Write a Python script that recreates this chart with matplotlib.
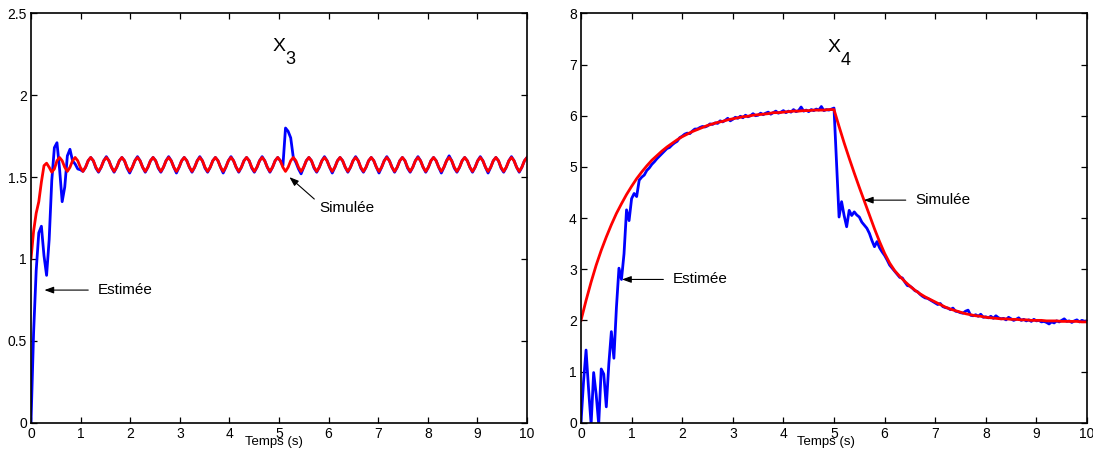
import numpy as np
import matplotlib
matplotlib.use("Agg")
import matplotlib.pyplot as plt
from matplotlib.ticker import FormatStrFormatter

plt.rcParams['font.family'] = ['Liberation Sans', 'DejaVu Sans']
plt.rcParams['font.size'] = 10

# ---- data : X3 (sampled every dt3 seconds) ----
dt3 = 0.05236
x3_sim = [
    1.00, 1.17, 1.28, 1.35, 1.47, 1.57,
    1.585, 1.56, 1.53, 1.55, 1.60, 1.62,
    1.60, 1.56, 1.535, 1.56, 1.60, 1.62,
    1.60, 1.56, 1.535, 1.56, 1.60, 1.62,
    1.60, 1.56, 1.535, 1.56, 1.60, 1.62,
    1.60, 1.56, 1.535, 1.56, 1.60, 1.62,
    1.60, 1.56, 1.535, 1.56, 1.60, 1.62,
    1.60, 1.56, 1.535, 1.56, 1.60, 1.62,
    1.60, 1.56, 1.535, 1.56, 1.60, 1.62,
    1.60, 1.56, 1.535, 1.56, 1.60, 1.62,
    1.60, 1.56, 1.535, 1.56, 1.60, 1.62,
    1.60, 1.56, 1.535, 1.56, 1.60, 1.62,
    1.60, 1.56, 1.535, 1.56, 1.60, 1.62,
    1.60, 1.56, 1.535, 1.56, 1.60, 1.62,
    1.60, 1.56, 1.535, 1.56, 1.60, 1.62,
    1.60, 1.56, 1.535, 1.56, 1.60, 1.62,
    1.60, 1.56, 1.535, 1.56, 1.60, 1.62,
    1.60, 1.56, 1.535, 1.56, 1.60, 1.62,
    1.60, 1.56, 1.535, 1.56, 1.60, 1.62,
    1.60, 1.56, 1.535, 1.56, 1.60, 1.62,
    1.60, 1.56, 1.535, 1.56, 1.60, 1.62,
    1.60, 1.56, 1.535, 1.56, 1.60, 1.62,
    1.60, 1.56, 1.535, 1.56, 1.60, 1.62,
    1.60, 1.56, 1.535, 1.56, 1.60, 1.62,
    1.60, 1.56, 1.535, 1.56, 1.60, 1.62,
    1.60, 1.56, 1.535, 1.56, 1.60, 1.62,
    1.60, 1.56, 1.535, 1.56, 1.60, 1.62,
    1.60, 1.56, 1.535, 1.56, 1.60, 1.62,
    1.60, 1.56, 1.535, 1.56, 1.60, 1.62,
    1.60, 1.56, 1.535, 1.56, 1.60, 1.62,
    1.60, 1.56, 1.535, 1.56, 1.60, 1.62,
    1.60, 1.56, 1.535, 1.56, 1.60, 1.62,
]
x3_est = [
    0.00, 0.55, 0.93, 1.16, 1.20, 1.02,
    0.90, 1.12, 1.48, 1.68, 1.71, 1.55,
    1.35, 1.44, 1.63, 1.67, 1.60, 1.58,
    1.55, 1.545, 1.535, 1.56, 1.60, 1.62,
    1.60, 1.555, 1.53, 1.56, 1.60, 1.625,
    1.60, 1.56, 1.53, 1.56, 1.60, 1.62,
    1.60, 1.555, 1.525, 1.56, 1.60, 1.625,
    1.60, 1.56, 1.53, 1.56, 1.60, 1.62,
    1.60, 1.555, 1.53, 1.56, 1.60, 1.625,
    1.60, 1.56, 1.525, 1.56, 1.60, 1.62,
    1.60, 1.56, 1.53, 1.56, 1.60, 1.625,
    1.60, 1.555, 1.53, 1.56, 1.60, 1.62,
    1.60, 1.56, 1.525, 1.56, 1.60, 1.625,
    1.60, 1.56, 1.53, 1.56, 1.60, 1.62,
    1.60, 1.555, 1.53, 1.56, 1.60, 1.625,
    1.60, 1.56, 1.53, 1.56, 1.60, 1.62,
    1.60, 1.57, 1.80, 1.78, 1.74, 1.62,
    1.59, 1.55, 1.52, 1.56, 1.60, 1.62,
    1.60, 1.555, 1.53, 1.56, 1.60, 1.625,
    1.60, 1.56, 1.525, 1.56, 1.60, 1.62,
    1.60, 1.56, 1.53, 1.56, 1.60, 1.625,
    1.60, 1.555, 1.53, 1.56, 1.60, 1.62,
    1.60, 1.56, 1.525, 1.56, 1.60, 1.625,
    1.60, 1.56, 1.53, 1.56, 1.60, 1.62,
    1.60, 1.555, 1.53, 1.56, 1.60, 1.625,
    1.60, 1.56, 1.53, 1.56, 1.60, 1.62,
    1.60, 1.56, 1.525, 1.56, 1.60, 1.63,
    1.60, 1.555, 1.53, 1.56, 1.60, 1.62,
    1.60, 1.56, 1.53, 1.56, 1.60, 1.625,
    1.60, 1.56, 1.525, 1.56, 1.60, 1.62,
    1.60, 1.555, 1.53, 1.56, 1.60, 1.625,
    1.60, 1.56, 1.53, 1.56, 1.60, 1.62,
]

# ---- data : X4 ----
dt4_sim = 0.1
x4_sim = [
    2.00, 2.39, 2.75, 3.08, 3.37, 3.63, 3.87, 4.09, 4.28, 4.46,
    4.62, 4.77, 4.90, 5.02, 5.13, 5.22, 5.31, 5.39, 5.46, 5.53,
    5.59, 5.64, 5.69, 5.73, 5.77, 5.81, 5.84, 5.87, 5.89, 5.92,
    5.94, 5.96, 5.98, 5.99, 6.01, 6.02, 6.03, 6.04, 6.06, 6.06,
    6.07, 6.08, 6.09, 6.09, 6.10, 6.10, 6.11, 6.11, 6.11, 6.12,
    6.12, 5.79, 5.47, 5.17, 4.88, 4.60, 4.33, 4.06, 3.79, 3.54,
    3.31, 3.12, 2.97, 2.86, 2.76, 2.67, 2.59, 2.52, 2.46, 2.41,
    2.36, 2.31, 2.26, 2.22, 2.19, 2.16, 2.13, 2.11, 2.09, 2.08,
    2.06, 2.05, 2.04, 2.03, 2.03, 2.02, 2.02, 2.01, 2.01, 2.00,
    2.00, 2.00, 1.99, 1.99, 1.99, 1.98, 1.98, 1.98, 1.98, 1.97,
    1.97,
]
dt4_est = 0.05
x4_est = [
    0.00, 0.80, 1.42, 0.65, -0.03, 0.98, 0.55, -0.03, 1.05, 0.95,
    0.31, 1.15, 1.78, 1.26, 2.25, 3.02, 2.80, 3.30, 4.16, 3.95,
    4.38, 4.48, 4.42, 4.74, 4.80, 4.84, 4.93, 4.98, 5.05, 5.10,
    5.16, 5.21, 5.26, 5.31, 5.36, 5.38, 5.43, 5.47, 5.50, 5.57,
    5.60, 5.64, 5.66, 5.65, 5.70, 5.74, 5.74, 5.77, 5.79, 5.78,
    5.80, 5.84, 5.83, 5.86, 5.85, 5.90, 5.88, 5.91, 5.95, 5.90,
    5.93, 5.97, 5.95, 5.99, 5.96, 6.01, 5.98, 6.00, 6.04, 6.00,
    6.01, 6.05, 6.02, 6.05, 6.07, 6.03, 6.06, 6.09, 6.05, 6.07,
    6.10, 6.06, 6.09, 6.07, 6.12, 6.08, 6.10, 6.17, 6.09, 6.11,
    6.08, 6.12, 6.10, 6.13, 6.11, 6.18, 6.10, 6.12, 6.11, 6.13,
    6.15, 5.10, 4.02, 4.32, 4.05, 3.83, 4.15, 4.05, 4.12, 4.06,
    4.02, 3.92, 3.86, 3.80, 3.70, 3.56, 3.44, 3.54, 3.42, 3.34,
    3.27, 3.18, 3.08, 3.02, 2.96, 2.90, 2.84, 2.83, 2.75, 2.68,
    2.67, 2.63, 2.58, 2.56, 2.51, 2.47, 2.44, 2.43, 2.40, 2.37,
    2.34, 2.31, 2.33, 2.27, 2.25, 2.24, 2.21, 2.24, 2.18, 2.17,
    2.15, 2.14, 2.18, 2.20, 2.10, 2.09, 2.11, 2.08, 2.12, 2.06,
    2.07, 2.05, 2.08, 2.04, 2.09, 2.05, 2.03, 2.04, 2.01, 2.06,
    2.03, 2.00, 2.02, 2.05, 2.00, 2.02, 1.99, 2.01, 1.98, 2.02,
    1.99, 2.00, 1.97, 1.98, 1.96, 1.93, 1.97, 1.95, 1.99, 1.97,
    2.00, 2.03, 1.98, 1.99, 1.96, 1.99, 2.01, 1.97, 2.00, 1.98,
    1.99,
]

x_ticks = [0, 1, 2, 3, 4, 5, 6, 7, 8, 9, 10]
y3_ticks = [0, 0.5, 1, 1.5, 2, 2.5]
y4_ticks = [0, 1, 2, 3, 4, 5, 6, 7, 8]

t3 = np.arange(len(x3_sim)) * dt3
t4_sim = np.arange(len(x4_sim)) * dt4_sim
t4_est = np.arange(len(x4_est)) * dt4_est

fig = plt.figure(figsize=(10.93, 4.54), dpi=100)
ax1 = fig.add_axes([31 / 1093, 31.3 / 454, 496 / 1093, 409.3 / 454])
ax2 = fig.add_axes([581 / 1093, 31.3 / 454, 506 / 1093, 409.3 / 454])

arrow = dict(arrowstyle='-|>,head_length=0.55,head_width=0.2', color='k',
             lw=0.8, mutation_scale=10, shrinkB=0)


def style_axes(ax, yticks, ymax):
    ax.set_xlim(0, 10)
    ax.set_ylim(0, ymax)
    ax.set_xticks(x_ticks)
    ax.set_yticks(yticks)
    ax.yaxis.set_major_formatter(FormatStrFormatter('%g'))
    ax.tick_params(direction='in', top=True, right=True, length=4, width=0.9,
                   labelsize=10, pad=3)
    for s in ax.spines.values():
        s.set_linewidth(1.2)


# left panel
ax1.plot(t3, x3_est, color='blue', lw=2)
ax1.plot(t3, x3_sim, color='red', lw=2)
style_axes(ax1, y3_ticks, 2.5)
ax1.text(5.0, 2.30, 'X', fontsize=14, ha='center', va='center')
ax1.annotate('3', xy=(5.0, 2.30), xytext=(8.5, -9.5), textcoords='offset points',
             fontsize=13, ha='center', va='center')
ax1.annotate('Estimée', xy=(0.27, 0.81), xytext=(1.35, 0.81), fontsize=11,
             ha='left', va='center',
             arrowprops=dict(arrow, relpos=(0, 0.5), shrinkA=5))
ax1.annotate('Simulée', xy=(5.21, 1.50), xytext=(5.81, 1.31), fontsize=11,
             ha='left', va='center',
             arrowprops=dict(arrow, relpos=(0, 0.85), shrinkA=2))
ax1.text(4.9, -0.046, 'Temps (s)', transform=ax1.get_xaxis_transform(),
         ha='center', va='center', fontsize=9.5)

# right panel
ax2.plot(t4_est, x4_est, color='blue', lw=2)
ax2.plot(t4_sim, x4_sim, color='red', lw=2)
style_axes(ax2, y4_ticks, 8)
ax2.text(5.0, 7.34, 'X', fontsize=14, ha='center', va='center')
ax2.annotate('4', xy=(5.0, 7.34), xytext=(8.5, -9.5), textcoords='offset points',
             fontsize=13, ha='center', va='center')
ax2.annotate('Estimée', xy=(0.81, 2.80), xytext=(1.82, 2.80), fontsize=11,
             ha='left', va='center',
             arrowprops=dict(arrow, relpos=(0, 0.5), shrinkA=5))
ax2.annotate('Simulée', xy=(5.59, 4.35), xytext=(6.61, 4.35), fontsize=11,
             ha='left', va='center',
             arrowprops=dict(arrow, relpos=(0, 0.5), shrinkA=5))
ax2.text(4.85, -0.046, 'Temps (s)', transform=ax2.get_xaxis_transform(),
         ha='center', va='center', fontsize=9.5)

fig.savefig('out.png', dpi=100)
